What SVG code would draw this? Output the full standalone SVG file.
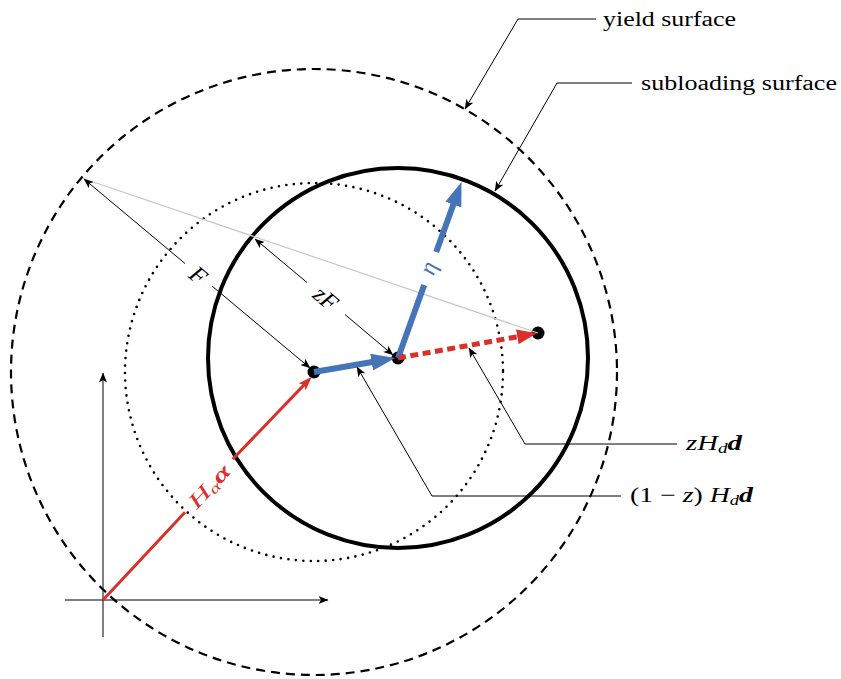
<svg xmlns="http://www.w3.org/2000/svg" width="841" height="679" viewBox="0 0 841 679">
<style>
text { font-family: "Liberation Serif", "DejaVu Serif", serif; fill: #000; }
.lbl { font-size: 20px; }
.math { font-size: 21px; font-style: italic; }
.rot { font-size: 24px; font-style: italic; }
.thin { fill: none; stroke: #000; stroke-width: 1; }
.gray { fill: none; stroke: #c8c8c8; stroke-width: 1.2; }
.blue { fill: none; stroke: #4674b8; stroke-width: 6; }
.red { fill: none; stroke: #d9302a; stroke-width: 3; }
.reddash { fill: none; stroke: #d9302a; stroke-width: 5; stroke-dasharray: 8 4.5; }
.dot { fill: #000; }
</style>
<defs>
<marker id="ah" markerUnits="userSpaceOnUse" markerWidth="10" markerHeight="8" viewBox="0 0 10 8" refX="9.5" refY="4" orient="auto-start-reverse"><path d="M0,0 L10,4 L0,8 L2.5,4 Z" fill="#000"/></marker>
<marker id="ahBlue" markerUnits="userSpaceOnUse" markerWidth="24" markerHeight="17" viewBox="0 0 24 17" refX="14" refY="8.5" orient="auto"><path d="M0,0 L24,8.5 L0,17 Z" fill="#4674b8"/></marker>
<marker id="ahRed" markerUnits="userSpaceOnUse" markerWidth="20" markerHeight="15" viewBox="0 0 20 15" refX="12" refY="7.5" orient="auto"><path d="M0,0 L20,7.5 L0,15 Z" fill="#d9302a"/></marker>
<marker id="ahRedS" markerUnits="userSpaceOnUse" markerWidth="14" markerHeight="10" viewBox="0 0 14 10" refX="8" refY="5" orient="auto"><path d="M0,0 L14,5 L0,10 L3,5 Z" fill="#d9302a"/></marker>
</defs>

<g id="yield-surface">
<circle cx="314" cy="372" r="303" fill="none" stroke="#000" stroke-width="2.2" stroke-dasharray="9 6"/>
</g>
<g id="scaled-yield-surface">
<circle cx="314" cy="372" r="189" fill="none" stroke="#000" stroke-width="2.6" stroke-linecap="round" stroke-dasharray="0 7.5"/>
</g>
<g id="subloading-surface">
<circle cx="398" cy="358" r="190" fill="none" stroke="#000" stroke-width="4"/>
</g>

<g id="axes">
<line class="thin" x1="65" y1="600" x2="328" y2="600" stroke-width="1.2" marker-end="url(#ah)"/>
<line class="thin" x1="103" y1="637" x2="103" y2="373" stroke-width="1.2" marker-end="url(#ah)"/>
</g>

<g id="centers">
<circle class="dot" cx="314" cy="372" r="6.5"/>
<circle class="dot" cx="398" cy="358" r="6.5"/>
<circle class="dot" cx="538" cy="333" r="6.5"/>
</g>

<g id="connectors">
<line class="gray" x1="83" y1="178.5" x2="538" y2="333"/>
<line class="thin" x1="84" y1="179" x2="185" y2="263.5" marker-start="url(#ah)"/>
<line class="thin" x1="212" y1="286" x2="310" y2="368" marker-end="url(#ah)"/>
<line class="thin" x1="255" y1="239" x2="307" y2="282.5" marker-start="url(#ah)"/>
<line class="thin" x1="345" y1="314.5" x2="393" y2="355" marker-end="url(#ah)"/>
<line class="red" x1="103" y1="600" x2="185" y2="512.3"/>
<line class="red" x1="232.7" y1="459.3" x2="307.6" y2="381.1" marker-end="url(#ahRedS)"/>
<line class="blue" x1="314" y1="372" x2="385.4" y2="359.8" marker-end="url(#ahBlue)"/>
<line class="blue" x1="398" y1="358" x2="424.2" y2="285"/>
<line class="blue" x1="436.2" y1="252" x2="458.1" y2="191.4" marker-end="url(#ahBlue)"/>
<line class="reddash" x1="398" y1="358" x2="529.1" y2="334.7" marker-end="url(#ahRed)"/>
<polyline class="thin" points="596,19 518,19 465,109" marker-end="url(#ah)"/>
<polyline class="thin" points="632,83 557,83 495,191" marker-end="url(#ah)"/>
<polyline class="thin" points="677,444 525,444 469,348" marker-end="url(#ah)"/>
<polyline class="thin" points="621,496 432,496 357,367" marker-end="url(#ah)"/>
</g>

<g id="labels">
<text class="lbl" x="603" y="25.5" textLength="133" lengthAdjust="spacingAndGlyphs">yield surface</text>
<text class="lbl" x="641" y="89.5" textLength="196" lengthAdjust="spacingAndGlyphs">subloading surface</text>
<text class="math" x="686" y="450" textLength="56" lengthAdjust="spacingAndGlyphs">zH<tspan font-size="14" dy="3">d</tspan><tspan font-weight="bold" dy="-3">d</tspan></text>
<text class="math" x="630" y="502" textLength="123" lengthAdjust="spacingAndGlyphs"><tspan font-style="normal">(1 − </tspan>z<tspan font-style="normal">) </tspan>H<tspan font-size="14" dy="3">d</tspan><tspan font-weight="bold" dy="-3">d</tspan></text>
<text class="rot" text-anchor="middle" transform="translate(198.5,275) rotate(40)" dy="0.35em">F</text>
<text class="rot" text-anchor="middle" transform="translate(326,298) rotate(40)" dy="0.35em">zF</text>
<text class="rot" text-anchor="middle" transform="translate(430,268.5) rotate(-70)" dy="0.25em" style="fill:#4674b8">η</text>
<text class="math" text-anchor="middle" transform="translate(209,486) rotate(-47)" dy="0.35em" style="fill:#d9302a" textLength="52" lengthAdjust="spacingAndGlyphs">H<tspan font-size="14" dy="3">α</tspan><tspan font-weight="bold" dy="-3">α</tspan></text>
</g>
</svg>
